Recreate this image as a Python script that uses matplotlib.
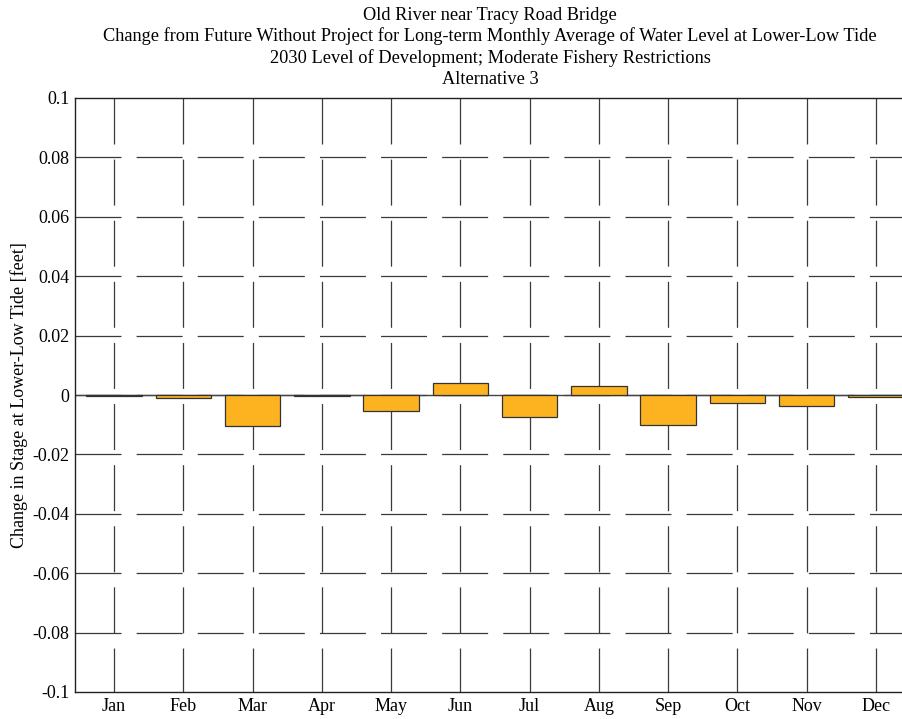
import matplotlib
matplotlib.use("Agg")
import matplotlib.pyplot as plt

plt.rcParams["font.family"] = ["Liberation Serif", "DejaVu Serif"]
plt.rcParams["lines.scale_dashes"] = False

months = ["Jan", "Feb", "Mar", "Apr", "May", "Jun",
          "Jul", "Aug", "Sep", "Oct", "Nov", "Dec"]
change_ft = [-0.0003, -0.0011, -0.0105, -0.0002, -0.0055, 0.0039,
             -0.0075, 0.0029, -0.0102, -0.0026, -0.0038, -0.0006]
yticks = [-0.1, -0.08, -0.06, -0.04, -0.02, 0, 0.02, 0.04, 0.06, 0.08, 0.1]
ytick_labels = ["-0.1", "-0.08", "-0.06", "-0.04", "-0.02", "0",
                "0.02", "0.04", "0.06", "0.08", "0.1"]
title_lines = [
    "Old River near Tracy Road Bridge",
    "Change from Future Without Project for Long-term Monthly Average of Water Level at Lower-Low Tide",
    "2030 Level of Development; Moderate Fishery Restrictions",
    "Alternative 3",
]

fig = plt.figure(figsize=(9.03, 7.19), dpi=100)
# axes runs a little past the right edge of the picture, like the original
ax = fig.add_axes([75 / 903, 27 / 719, 840 / 903, 594 / 719])

x = list(range(1, len(months) + 1))
xlo, xhi = 0.4375, 12.5625
ax.set_xlim(xlo, xhi)
ax.set_ylim(-0.1, 0.1)

# dashed grid, drawn by hand so the dash phase matches the original
grid_col = "#3a3a3a"
dash = (0, (33.1, 10.9))
for xv in x:
    ax.plot([xv, xv], [0.1, -0.1], color=grid_col, lw=0.9,
            linestyle=dash, zorder=1)
for yv in yticks[1:-1]:
    ax.plot([xlo, xhi], [yv, yv], color=grid_col, lw=0.9,
            linestyle=dash, zorder=1)

ax.bar(x, change_ft, width=0.8, color="#FDB31F", edgecolor="#333333",
       linewidth=0.9, zorder=3)
ax.axhline(0, color="#444444", lw=1.0, zorder=2)

ax.set_xticks(x)
ax.set_xticklabels(months, fontsize=13)
ax.set_yticks(yticks)
ax.set_yticklabels(ytick_labels, fontsize=13)
ax.tick_params(direction="in", length=0, pad=4)
for s in ax.spines.values():
    s.set_linewidth(1.0)
    s.set_color("#222222")

ax.set_ylabel("Change in Stage at Lower-Low Tide [feet]", fontsize=13, va="center")
ax.yaxis.set_label_coords(-56 / 840, 0.5)

for i, line in enumerate(title_lines):
    fig.text(490 / 903, 1 - (15 + 21.5 * i) / 719, line, ha="center", va="center",
             fontsize=13.25)

fig.savefig("out.png", dpi=100)
